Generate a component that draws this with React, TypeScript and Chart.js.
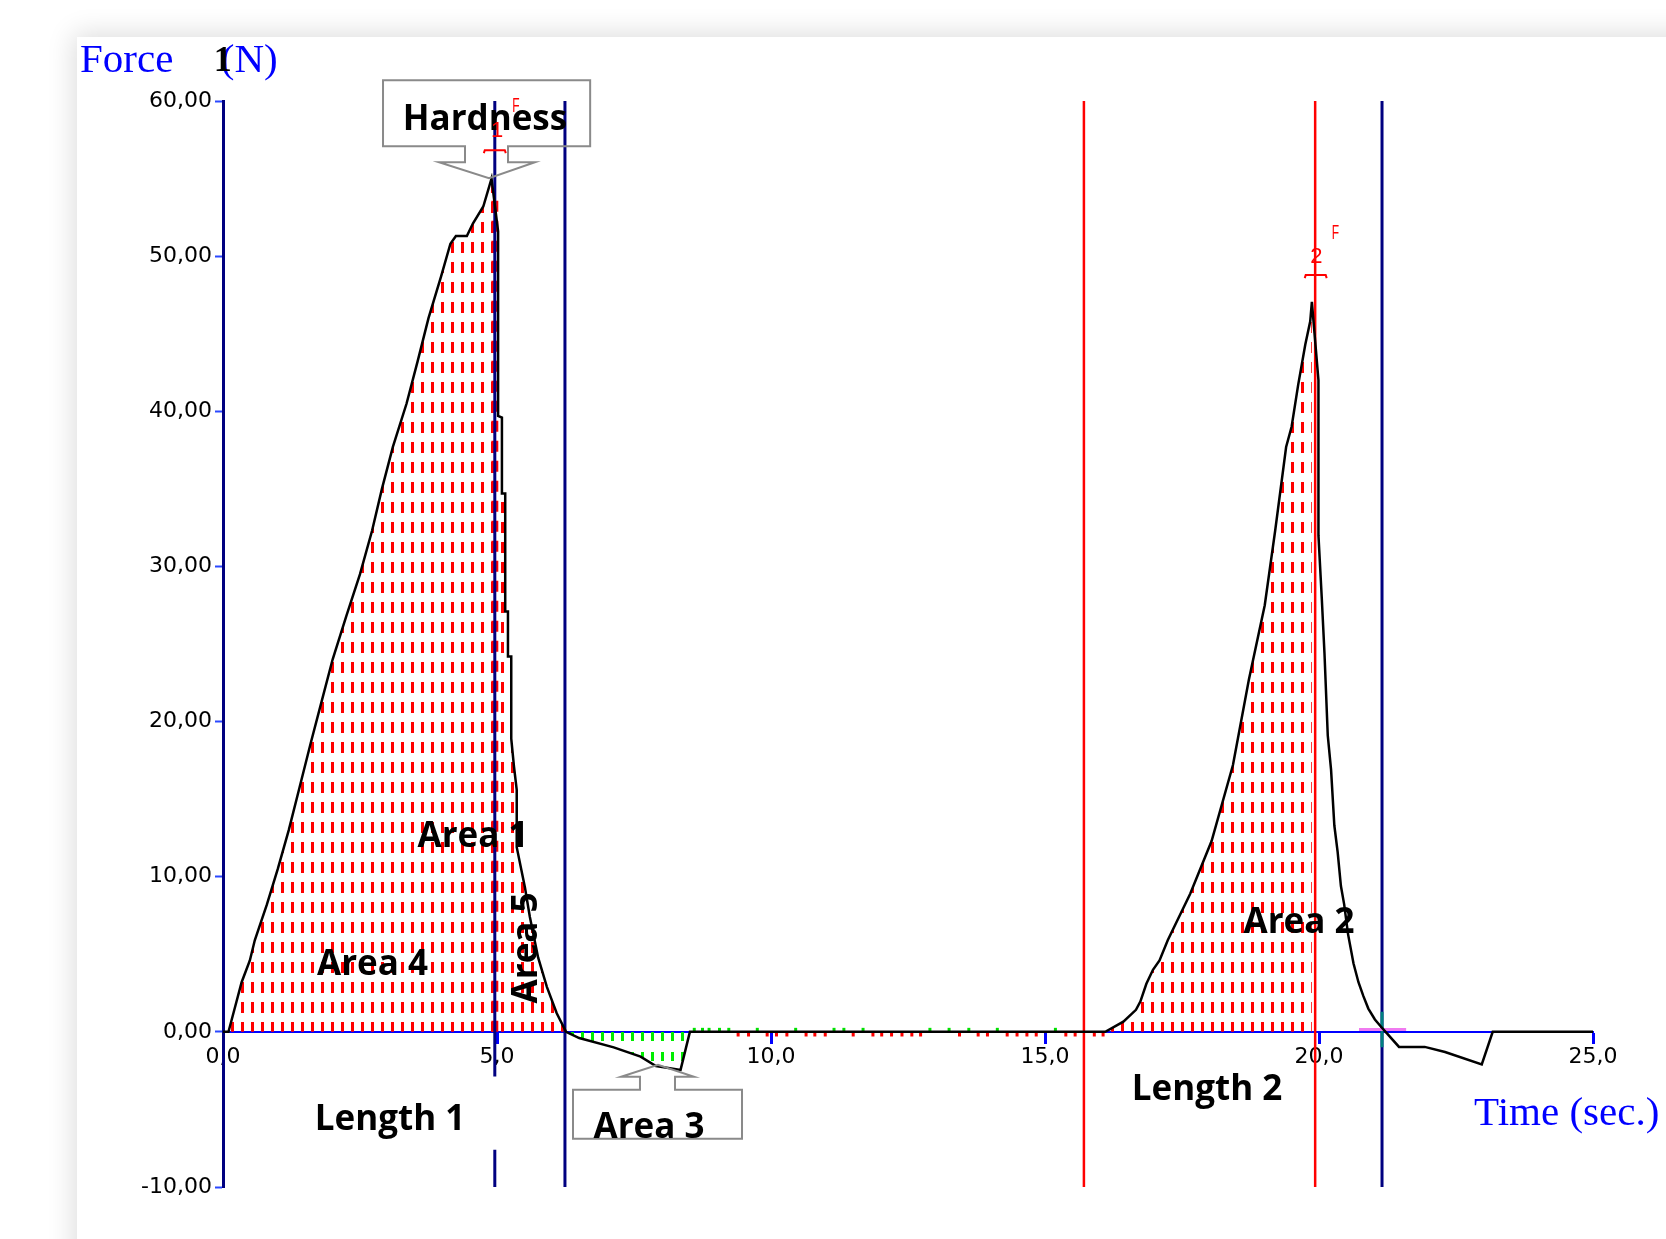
import React, { useEffect, useRef } from 'react';
import { Chart, registerables } from 'chart.js';

Chart.register(...registerables);

// ---------------- data ----------------
const curveTime = [
  0.0, 0.1, 0.22, 0.34, 0.49, 0.58, 0.8, 1.0, 1.2, 1.4, 1.6, 1.8, 2.0, 2.25, 2.5, 2.72, 2.9, 3.1, 3.35, 3.55,
  3.75, 3.98, 4.15, 4.25, 4.45, 4.56, 4.75, 4.9, 5.02, 5.02, 5.09, 5.09, 5.15, 5.15, 5.2, 5.2, 5.26, 5.26,
  5.31, 5.36, 5.36, 5.51, 5.6, 5.75, 5.91, 6.09, 6.26, 6.5, 7.13, 7.62, 7.9, 8.35, 8.52, 16.1, 16.43, 16.66,
  16.74, 16.85, 16.97, 17.09, 17.24, 17.65, 18.04, 18.43, 18.72, 19.01, 19.2, 19.4, 19.5, 19.62, 19.75, 19.84,
  19.87, 19.99, 19.99, 20.05, 20.1, 20.16, 20.22, 20.28, 20.34, 20.4, 20.46, 20.53, 20.63, 20.72, 20.81, 20.9,
  21.02, 21.14, 21.24, 21.46, 21.93, 22.3, 22.97, 23.17, 25.0,
];
const curveForce = [
  0, 0, 1.6, 3.2, 4.6, 5.9, 8.2, 10.5, 13.0, 15.8, 18.6, 21.3, 24.0, 26.8, 29.5, 32.3, 35.0, 37.7, 40.5, 43.2,
  46.0, 48.7, 50.8, 51.3, 51.3, 52.1, 53.2, 55.0, 51.6, 39.7, 39.6, 34.7, 34.7, 27.1, 27.1, 24.2, 24.2, 18.9,
  17.1, 15.6, 11.9, 9.3, 7.4, 4.8, 2.9, 1.2, 0, -0.4, -1.0, -1.6, -2.2, -2.45, 0, 0, 0.66, 1.42,
  1.95, 3.1, 4.0, 4.6, 5.9, 8.9, 12.3, 17.2, 22.7, 27.5, 32.3, 37.7, 39.0, 41.7, 44.3, 45.8,
  47.05, 42.0, 32.0, 28.0, 24.4, 19.1, 16.9, 13.3, 11.6, 9.4, 8.2, 6.3, 4.4, 3.2, 2.3, 1.5,
  0.8, 0.3, -0.1, -0.97, -0.97, -1.3, -2.1, 0, 0,
];

const redHatchRanges = [[0.1, 6.26], [16.1, 19.87]];
const greenHatchRange = [6.26, 8.52];

const navyLineTimes = [6.24, 21.15];
const redLineTimes = [15.71, 19.93];
const splitNavyTime = 4.96;
const splitNavyGap = [-2.88, -7.6];
const peakColumnTime = 4.96;
const peakColumnTop = 54;

const greenTickTimes = [8.6, 8.75, 8.87, 9.06, 9.23, 9.75, 10.45, 11.15, 11.33, 11.68, 12.9, 13.25, 13.61, 14.13, 15.19];
const redTickTimes = [
  9.4, 9.59, 9.93, 10.1, 10.29, 10.64, 10.8, 10.99, 11.5, 11.86, 12.02, 12.2, 12.39, 12.57, 12.73, 13.44, 13.78,
  13.95, 14.31, 14.49, 14.67, 14.84, 15.38, 15.55, 15.9, 16.06,
];

const pinkSegment = [20.73, 21.59];
const tealSegment = [1.3, -1.0];

const xTickValues = [0, 5, 10, 15, 20, 25];
const yTickValues = [-10, 0, 10, 20, 30, 40, 50, 60];

// ------------------------------------------------------------

const pts = (lo: number, hi: number) =>
  curveTime.map((t, i) => ({ x: t, y: curveForce[i] })).filter((p) => p.x >= lo && p.x <= hi);

const vline = (t: number, color: string, width: number, order: number) => ({
  data: [{ x: t, y: -10 }, { x: t, y: 60 }],
  showLine: true,
  borderColor: color,
  borderWidth: width,
  pointRadius: 0,
  fill: false,
  order,
});

const annotationPlugin = {
  id: 'annots',
  afterDraw(chart: any) {
    const { ctx } = chart;
    const xs = chart.scales.x;
    const ys = chart.scales.y;
    const px = (t: number) => xs.getPixelForValue(t);
    const py = (f: number) => ys.getPixelForValue(f);
    ctx.save();

    // callout: Hardness
    ctx.strokeStyle = '#8a8a8a';
    ctx.lineWidth = 2;
    ctx.beginPath();
    ctx.moveTo(px(4.416), py(57.09));
    ctx.lineTo(px(2.92), py(57.09));
    ctx.lineTo(px(2.92), py(61.34));
    ctx.lineTo(px(6.7), py(61.34));
    ctx.lineTo(px(6.7), py(57.09));
    ctx.lineTo(px(5.201), py(57.09));
    ctx.lineTo(px(5.201), py(56.06));
    ctx.lineTo(px(5.693), py(56.06));
    ctx.lineTo(px(4.854), py(55.03));
    ctx.lineTo(px(3.942), py(56.06));
    ctx.lineTo(px(4.416), py(56.06));
    ctx.closePath();
    ctx.stroke();

    // callout: Area 3
    ctx.beginPath();
    ctx.moveTo(px(7.609), py(-3.737));
    ctx.lineTo(px(6.387), py(-3.737));
    ctx.lineTo(px(6.387), py(-6.894));
    ctx.lineTo(px(9.471), py(-6.894));
    ctx.lineTo(px(9.471), py(-3.737));
    ctx.lineTo(px(8.248), py(-3.737));
    ctx.lineTo(px(8.248), py(-2.9));
    ctx.lineTo(px(8.595), py(-2.9));
    ctx.lineTo(px(7.938), py(-2.126));
    ctx.lineTo(px(7.263), py(-2.9));
    ctx.lineTo(px(7.609), py(-2.9));
    ctx.closePath();
    ctx.stroke();

    // bold labels
    ctx.fillStyle = '#000';
    ctx.font = 'bold 35px "Open Sans"';
    ctx.textAlign = 'center';
    ctx.textBaseline = 'alphabetic';
    const labels: [string, number, number][] = [
      ['Hardness', 4.78, 58.1],
      ['Area 1', 4.562, 11.92],
      ['Area 4', 2.728, 3.67],
      ['Area 2', 19.635, 6.38],
      ['Length 1', 3.047, -6.31],
      ['Length 2', 17.956, -4.38],
      ['Area 3', 7.774, -6.83],
    ];
    labels.forEach(([s, t, f]) => ctx.fillText(s, px(t), py(f)));
    ctx.save();
    ctx.translate(px(5.73), py(5.41));
    ctx.rotate(-Math.PI / 2);
    ctx.fillText('Area 5', 0, 0);
    ctx.restore();

    // axis titles
    ctx.textAlign = 'left';
    ctx.fillStyle = '#0000ff';
    ctx.font = '41px "Liberation Serif"';
    ctx.fillText('Force', px(-2.61), py(61.86));
    ctx.fillText('(N)', px(-0.04), py(61.86));
    ctx.fillText('Time (sec.)', px(22.83), py(-5.99));
    ctx.fillStyle = '#000';
    ctx.font = 'bold 36px "Liberation Serif"';
    ctx.fillText('1', px(-0.17), py(61.95));

    // peak markers
    ctx.strokeStyle = '#ff0000';
    ctx.fillStyle = '#ff0000';
    ctx.lineWidth = 2;
    const marker = (t: number, f: number, label: string, tl: number, fl: number, tf: number, ff: number) => {
      const cx = px(t);
      const cy = py(f);
      ctx.beginPath();
      ctx.moveTo(cx - 11, cy + 3);
      ctx.lineTo(cx - 10, cy);
      ctx.lineTo(cx + 10, cy);
      ctx.lineTo(cx + 11, cy + 3);
      ctx.stroke();
      ctx.textAlign = 'center';
      ctx.font = '22px "Liberation Sans"';
      ctx.fillText(label, px(tl), py(fl));
      ctx.save();
      ctx.translate(px(tf), py(ff));
      ctx.scale(0.6, 1);
      ctx.font = '20px "Liberation Sans"';
      ctx.fillText('F', 0, 0);
      ctx.restore();
    };
    marker(4.96, 56.83, '1', 5.0, 57.67, 5.347, 59.28);
    marker(19.94, 48.78, '2', 19.954, 49.55, 20.3, 51.1);

    ctx.restore();
  },
};

export default function App() {
  const ref = useRef<HTMLCanvasElement>(null);

  useEffect(() => {
    const canvas = ref.current!;
    const mainCtx = canvas.getContext('2d')!;
    const makePattern = (color: string, rects: number[][]) => {
      const c = document.createElement('canvas');
      c.width = 10;
      c.height = 20;
      const g = c.getContext('2d')!;
      g.fillStyle = color;
      rects.forEach((r) => g.fillRect(r[0], r[1], r[2], r[3]));
      return mainCtx.createPattern(c, 'repeat')!;
    };
    const redPattern = makePattern('#ff0000', [[1, 2, 3, 11]]);
    const greenPattern = makePattern('#00ee00', [[1, 12, 3, 8], [1, 0, 3, 1]]);

    const datasets: any[] = [
      {
        data: pts(-1, 26),
        showLine: true,
        borderColor: '#000000',
        borderWidth: 2.5,
        pointRadius: 0,
        fill: false,
        tension: 0,
        order: 0,
      },
      {
        data: [{ x: pinkSegment[0], y: 0.15 }, { x: pinkSegment[1], y: 0.15 }],
        showLine: true,
        borderColor: '#f07af0',
        borderWidth: 3,
        pointRadius: 0,
        order: 1,
      },
      {
        data: [{ x: navyLineTimes[1], y: tealSegment[0] }, { x: navyLineTimes[1], y: tealSegment[1] }],
        showLine: true,
        borderColor: '#008080',
        borderWidth: 3,
        pointRadius: 0,
        order: 1,
      },
      ...navyLineTimes.map((t) => vline(t, '#000080', 3, 2)),
      ...redLineTimes.map((t) => vline(t, '#ff0000', 2.5, 2)),
      {
        data: [
          { x: splitNavyTime, y: 60 },
          { x: splitNavyTime, y: splitNavyGap[0] },
          { x: splitNavyTime, y: null },
          { x: splitNavyTime, y: splitNavyGap[1] },
          { x: splitNavyTime, y: -10 },
        ],
        showLine: true,
        spanGaps: false,
        borderColor: '#000080',
        borderWidth: 3,
        pointRadius: 0,
        order: 2,
      },
      {
        data: greenTickTimes.map((t) => ({ x: t, y: 0.13 })),
        showLine: false,
        pointStyle: 'line',
        pointRotation: 90,
        pointRadius: 2,
        pointBorderWidth: 3,
        pointBorderColor: '#00e000',
        borderColor: '#00e000',
        order: 3,
      },
      {
        data: redTickTimes.map((t) => ({ x: t, y: -0.17 })),
        showLine: false,
        pointStyle: 'line',
        pointRotation: 90,
        pointRadius: 2,
        pointBorderWidth: 3,
        pointBorderColor: '#ff0000',
        borderColor: '#ff0000',
        order: 3,
      },
      {
        data: [{ x: peakColumnTime, y: 0 }, { x: peakColumnTime, y: peakColumnTop }],
        showLine: true,
        borderColor: '#ff0000',
        borderWidth: 7,
        borderDash: [11, 9],
        borderCapStyle: 'butt',
        pointRadius: 0,
        order: 4,
      },
      ...redHatchRanges.map((r) => ({
        data: pts(r[0], r[1]),
        showLine: true,
        borderColor: 'rgba(0,0,0,0)',
        borderWidth: 1,
        backgroundColor: redPattern,
        fill: 'origin',
        pointRadius: 0,
        order: 5,
      })),
      {
        data: pts(greenHatchRange[0], greenHatchRange[1]),
        showLine: true,
        borderColor: 'rgba(0,0,0,0)',
        borderWidth: 1,
        backgroundColor: greenPattern,
        fill: 'origin',
        pointRadius: 0,
        order: 5,
      },
    ];

    const tickFont = { family: 'DejaVu Sans', size: 22 };

    const chart = new Chart(canvas, {
      type: 'scatter',
      data: { datasets },
      options: {
        responsive: false,
        animation: false,
        events: [],
        layout: { padding: { left: 0, top: 101, right: 73, bottom: 52 } },
        plugins: { legend: { display: false }, tooltip: { enabled: false } },
        scales: {
          x: {
            type: 'linear',
            position: { y: 0 } as any,
            min: 0,
            max: 25,
            afterFit: (s: any) => {
              s.height = 0;
            },
            afterBuildTicks: (s: any) => {
              s.ticks = xTickValues.map((v) => ({ value: v }));
            },
            border: { color: '#0000ff', width: 2 },
            grid: { drawOnChartArea: false, drawTicks: true, tickLength: 11, tickColor: '#0000ff', tickWidth: 3 },
            ticks: {
              autoSkip: false,
              maxRotation: 0,
              padding: 1,
              color: '#000',
              font: tickFont,
              callback: (v: any) => Number(v).toFixed(1).replace('.', ','),
            },
          },
          y: {
            type: 'linear',
            position: 'left',
            min: -10,
            max: 60,
            afterFit: (s: any) => {
              s.width = 223;
            },
            afterBuildTicks: (s: any) => {
              s.ticks = yTickValues.map((v) => ({ value: v }));
            },
            border: { color: '#000080', width: 3 },
            grid: { drawOnChartArea: false, drawTicks: true, tickLength: 8, tickColor: '#2a48ff', tickWidth: 2 },
            ticks: {
              autoSkip: false,
              padding: 3,
              color: '#000',
              font: tickFont,
              callback: (v: any) => Number(v).toFixed(2).replace('.', ','),
            },
          },
        },
      } as any,
      plugins: [annotationPlugin],
    });
    return () => chart.destroy();
  }, []);

  return (
    <div
      style={{
        position: 'absolute',
        left: 0,
        top: 0,
        width: 1666,
        height: 1239,
        overflow: 'hidden',
        background: '#ffffff',
      }}
    >
      <div
        style={{
          position: 'absolute',
          left: 77,
          top: 37,
          width: 1800,
          height: 1400,
          background: '#ffffff',
          boxShadow: '0 0 26px 3px rgba(0,0,0,0.14)',
        }}
      />
      <canvas ref={ref} width={1666} height={1239} style={{ position: 'absolute', left: 0, top: 0 }} />
    </div>
  );
}
